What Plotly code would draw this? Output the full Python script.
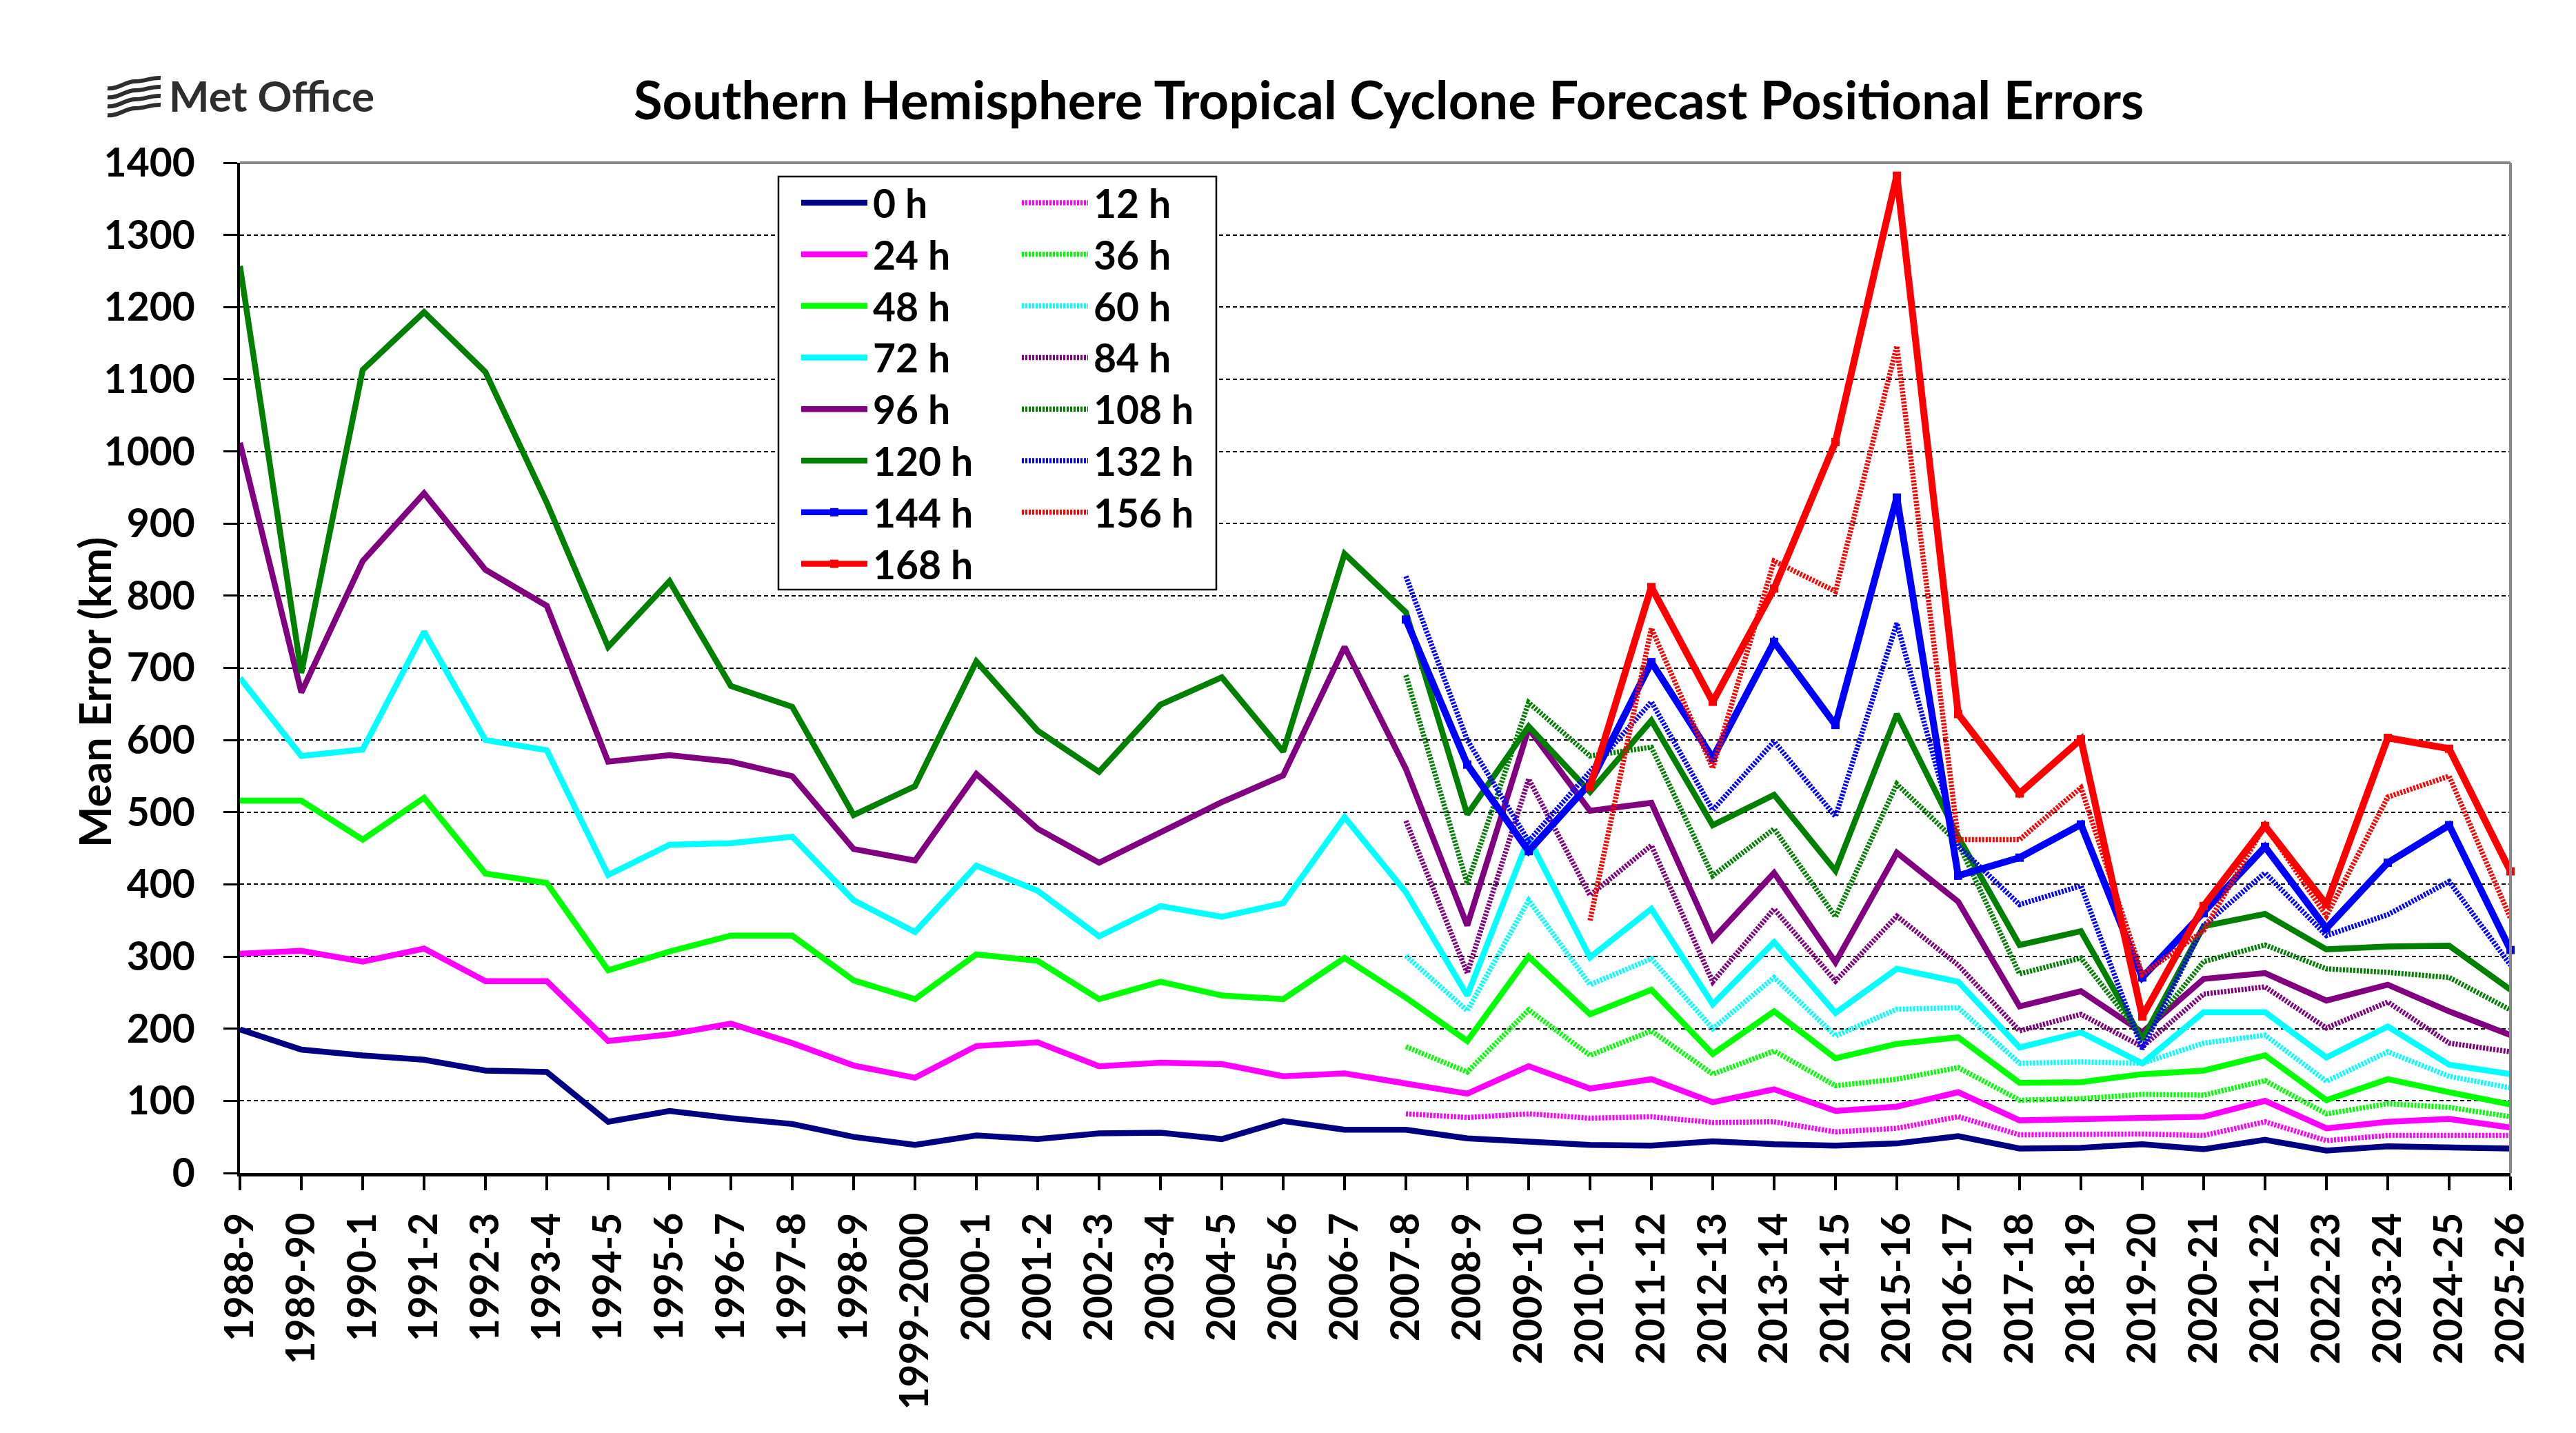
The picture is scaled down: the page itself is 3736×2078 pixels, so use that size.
import plotly.graph_objects as go

# ---------------- data ----------------
seasons = ["1988-9", "1989-90", "1990-1", "1991-2", "1992-3", "1993-4", "1994-5", "1995-6",
           "1996-7", "1997-8", "1998-9", "1999-2000", "2000-1", "2001-2", "2002-3", "2003-4",
           "2004-5", "2005-6", "2006-7", "2007-8", "2008-9", "2009-10", "2010-11", "2011-12",
           "2012-13", "2013-14", "2014-15", "2015-16", "2016-17", "2017-18", "2018-19", "2019-20",
           "2020-21", "2021-22", "2022-23", "2023-24", "2024-25", "2025-26"]

h0 = [199, 171, 163, 157, 142, 140, 71, 86, 76, 68, 50, 39, 52, 47, 55, 56, 47, 72, 60,
      60, 48, 43, 39, 38, 44, 40, 38, 41, 51, 34, 35, 40, 33, 46, 31, 37, 35, 34]
h12 = [None] * 19 + [82, 77, 82, 76, 78, 70, 71, 57, 62, 78, 53, 53, 54, 52, 71, 45, 52, 52, 52]
h24 = [304, 308, 293, 311, 266, 266, 183, 192, 207, 180, 149, 132, 176, 181, 148, 153, 151, 134, 138,
       125, 110, 148, 117, 130, 98, 116, 86, 92, 112, 73, 75, 78, 78, 100, 62, 71, 75, 63]
h36 = [None] * 19 + [175, 140, 226, 163, 197, 137, 169, 121, 130, 146, 101, 103, 109, 108, 128, 82, 96, 91, 78]
h48 = [516, 516, 462, 520, 415, 402, 281, 307, 329, 329, 267, 241, 303, 294, 241, 265, 246, 241, 298,
       243, 183, 300, 220, 254, 165, 224, 159, 179, 188, 125, 126, 137, 142, 163, 101, 130, 112, 95]
h60 = [None] * 19 + [301, 225, 378, 261, 297, 200, 271, 190, 227, 229, 152, 154, 152, 180, 191, 127, 168, 134, 118]
h72 = [686, 578, 587, 750, 600, 586, 413, 455, 457, 466, 378, 334, 426, 391, 328, 370, 355, 374, 493,
       389, 246, 464, 299, 366, 234, 320, 222, 283, 265, 174, 195, 152, 223, 223, 160, 203, 150, 137]
h84 = [None] * 19 + [488, 277, 546, 385, 454, 265, 366, 266, 356, 288, 197, 220, 175, 248, 258, 201, 237, 180, 168]
h96 = [1012, 666, 848, 942, 836, 786, 570, 579, 570, 550, 449, 433, 553, 477, 430, 471, 514, 551, 729,
       560, 343, 616, 502, 513, 324, 416, 292, 444, 376, 231, 252, 195, 269, 277, 239, 261, 224, 191]
h108 = [None] * 19 + [690, 401, 652, 578, 590, 412, 477, 355, 539, 457, 276, 298, 188, 293, 316, 283, 278, 271, 226]
h120 = [1257, 693, 1113, 1193, 1110, 929, 729, 820, 675, 646, 496, 536, 709, 613, 556, 649, 687, 584, 858,
        777, 497, 619, 528, 627, 482, 524, 419, 636, 466, 316, 335, 185, 342, 359, 310, 314, 315, 254]
h132 = [None] * 19 + [827, 600, 460, 556, 653, 503, 598, 494, 762, 453, 372, 398, 172, 343, 416, 329, 358, 404, 288]
h144 = [None] * 19 + [767, 566, 446, 540, 708, 575, 736, 621, 936, 412, 437, 483, 271, 360, 452, 339, 430, 482, 309]
h156 = [None] * 22 + [350, 755, 561, 848, 806, 1146, 462, 462, 534, 275, 336, 482, 356, 521, 550, 353]
h168 = [None] * 22 + [535, 812, 653, 810, 1013, 1382, 636, 526, 601, 217, 370, 481, 372, 603, 588, 418]

series_names = ["0 h", "12 h", "24 h", "36 h", "48 h", "60 h", "72 h", "84 h",
                "96 h", "108 h", "120 h", "132 h", "144 h", "156 h", "168 h"]
series_values = [h0, h12, h24, h36, h48, h60, h72, h84, h96, h108, h120, h132, h144, h156, h168]
series_colors = ["#000080", "#FF00FF", "#FF00FF", "#00FF00", "#00FF00", "#00FFFF", "#00FFFF", "#800080",
                 "#800080", "#008000", "#008000", "#0000FF", "#0000FF", "#FF0000", "#FF0000"]
series_patterned = [False, True, False, True, False, True, False, True,
                    False, True, False, True, False, True, False]
series_markers = [False] * 12 + [True, False, True]

y_ticks = list(range(0, 1401, 100))

# ---------------- layout geometry ----------------
W, H = 3736, 2078
L, R, T, B = 348, 3641, 236, 1701
FONT = "Lato"
PAT = "3px,2px"


def px(x):
    return (x - L) / (R - L)


def py(y):
    return (B - y) / (B - T)


fig = go.Figure()
x_idx = list(range(len(seasons)))
for name, vals, color, pat, mk in zip(series_names, series_values, series_colors,
                                      series_patterned, series_markers):
    width = 10 if mk else (7.5 if pat else 8.5)
    fig.add_trace(go.Scatter(
        x=x_idx, y=vals, name=name,
        mode="lines+markers" if mk else "lines",
        line=dict(color=color, width=width, dash=PAT if pat else "solid"),
        marker=dict(symbol="square", size=12, color=color) if mk else None,
        connectgaps=False, cliponaxis=False, showlegend=False, hoverinfo="skip"))

shapes = []
annotations = []

# plot-area border (grey top & right)
shapes.append(dict(type="line", xref="paper", yref="paper", x0=0, x1=1, y0=1, y1=1,
                   line=dict(color="#888888", width=4)))
shapes.append(dict(type="line", xref="paper", yref="paper", x0=1, x1=1, y0=0, y1=1,
                   line=dict(color="#888888", width=4)))

# custom legend
LB = dict(x0=1129, x1=1764, y0=256, y1=855)
shapes.append(dict(type="rect", xref="paper", yref="paper",
                   x0=px(LB["x0"]), x1=px(LB["x1"]), y0=py(LB["y1"]), y1=py(LB["y0"]),
                   fillcolor="white", line=dict(color="black", width=2.5), layer="above"))
col1 = [0, 2, 4, 6, 8, 10, 12, 14]
col2 = [1, 3, 5, 7, 9, 11, 13]
row_y0, row_dy = 294, 74.8
for col, (lx0, lx1) in ((col1, (1162, 1258)), (col2, (1482, 1578))):
    for k, si in enumerate(col):
        yy = row_y0 + k * row_dy
        pat = series_patterned[si]
        shapes.append(dict(type="line", xref="paper", yref="paper",
                           x0=px(lx0), x1=px(lx1), y0=py(yy), y1=py(yy), layer="above",
                           line=dict(color=series_colors[si], width=7.5 if pat else 8.5,
                                     dash=PAT if pat else "solid")))
        if series_markers[si]:
            cx = (lx0 + lx1) / 2
            shapes.append(dict(type="rect", xref="paper", yref="paper", layer="above",
                               x0=px(cx - 6), x1=px(cx + 6), y0=py(yy + 6), y1=py(yy - 6),
                               fillcolor=series_colors[si], line=dict(width=0)))
        annotations.append(dict(xref="paper", yref="paper", x=px(lx1 + 6), y=py(yy),
                                xanchor="left", yanchor="middle", showarrow=False,
                                text=series_names[si],
                                font=dict(family=FONT, size=57, color="black", weight="bold")))

# title
annotations.append(dict(xref="paper", yref="paper", x=px(2014), y=py(143),
                        xanchor="center", yanchor="middle", showarrow=False,
                        text="Southern Hemisphere Tropical Cyclone Forecast Positional Errors",
                        font=dict(family=FONT, size=76, color="black", weight="bold")))
# y-axis title
annotations.append(dict(xref="paper", yref="paper", x=px(136), y=py(1004),
                        xanchor="center", yanchor="middle", showarrow=False, textangle=-90,
                        text="Mean Error (km)",
                        font=dict(family=FONT, size=63, color="black", weight="bold")))
# Met Office logo
annotations.append(dict(xref="paper", yref="paper", x=px(243), y=py(138),
                        xanchor="left", yanchor="middle", showarrow=False,
                        text="Met Office",
                        font=dict(family=FONT, size=62, color="#2e2e2e", weight="bold")))
for k in range(4):
    y0 = 116 + k * 13
    pts = [(156, y0 + 12), (170, y0 + 14), (182, y0 + 2), (196, y0 + 2),
           (210, y0 + 2), (220, y0 - 4), (233, y0 - 3)]
    p = "M{},{} C{},{} {},{} {},{} C{},{} {},{} {},{}".format(
        px(pts[0][0]), py(pts[0][1]),
        px(pts[1][0]), py(pts[1][1]), px(pts[2][0]), py(pts[2][1]), px(pts[3][0]), py(pts[3][1]),
        px(pts[4][0]), py(pts[4][1]), px(pts[5][0]), py(pts[5][1]), px(pts[6][0]), py(pts[6][1]))
    shapes.append(dict(type="path", xref="paper", yref="paper", path=p,
                       line=dict(color="#2e2e2e", width=6)))

tickfont = dict(family=FONT, size=57, color="black", weight="bold")
fig.update_layout(
    width=W, height=H,
    margin=dict(l=L, r=W - R, t=T, b=H - B, autoexpand=False),
    paper_bgcolor="white", plot_bgcolor="white",
    showlegend=False,
    shapes=shapes, annotations=annotations,
    xaxis=dict(range=[0, len(seasons) - 1], tickmode="array", tickvals=x_idx, ticktext=seasons,
               tickangle=-90, tickfont=tickfont, ticks="outside", ticklen=20, tickwidth=4,
               tickcolor="black", showline=True, linecolor="black", linewidth=5,
               showgrid=False, zeroline=False, ticklabelstandoff=10),
    yaxis=dict(range=[0, 1400], tickmode="array", tickvals=y_ticks,
               ticktext=[str(v) for v in y_ticks], tickfont=tickfont,
               ticks="outside", ticklen=20, tickwidth=3, tickcolor="black",
               showline=True, linecolor="black", linewidth=3.5,
               showgrid=True, gridcolor="black", gridwidth=1.5, griddash="6px,4px",
               zeroline=False, ticklabelstandoff=30),
)

fig.write_html("out.html", config={"displayModeBar": False})
